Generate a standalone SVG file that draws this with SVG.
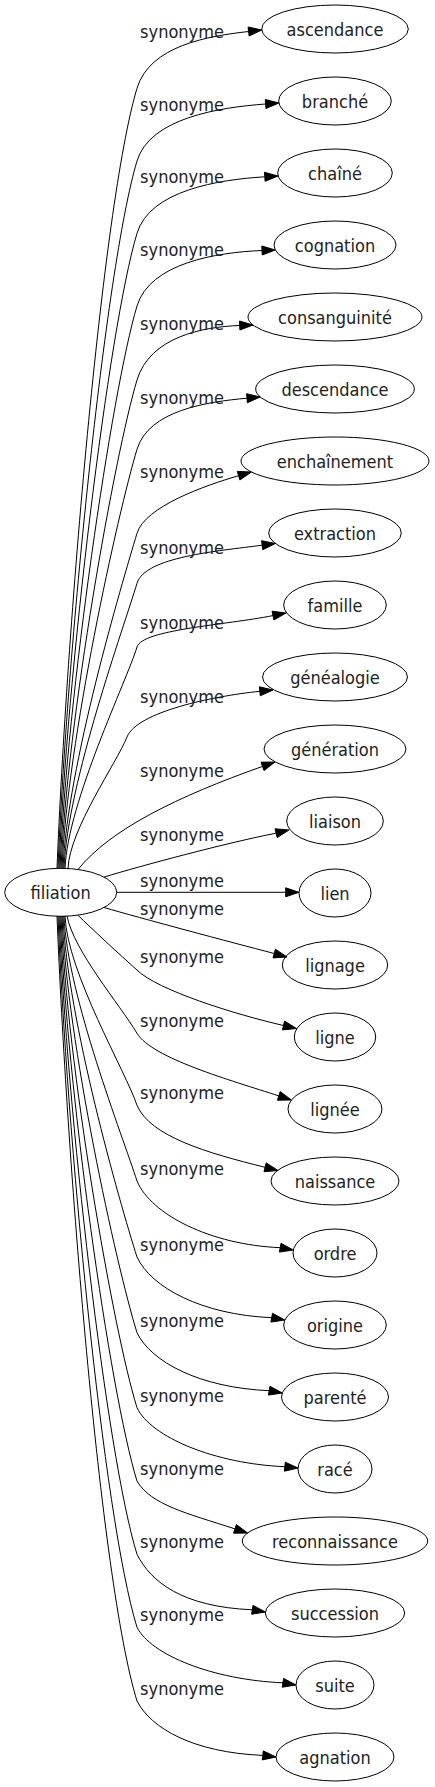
<svg xmlns="http://www.w3.org/2000/svg" width="435" height="1787" viewBox="0 0 435 1787">
<style>
.n ellipse{fill:none;stroke:#000;stroke-width:1}
.n text,.e text{font-family:"DejaVu Sans Condensed","DejaVu Sans",sans-serif;font-size:18px;fill:#222;text-anchor:middle}
.e path{fill:none;stroke:#000;stroke-width:1}
.e polygon{fill:#000;stroke:#000;stroke-width:1}
</style>
<rect width="435" height="1787" fill="#fff"/>
<g id="edges">
<g class="e"><path d="M57,868.5 C66.4,634.5 101.9,205.3 137,88.3 C149.9,45.3 208.9,36 248.6,31.5"/><polygon points="261.8,30 248.1,27 249.1,36"/><text x="182" y="38.3">synonyme</text></g>
<g class="e"><path d="M58,868.5 C66.5,656.5 105.2,267 137,161 C149.9,118 219.4,107.4 265.6,104"/><polygon points="278.9,103 265.3,99.5 265.9,108.5"/><text x="182" y="111">synonyme</text></g>
<g class="e"><path d="M59,868.5 C66.6,677.9 108.4,328.6 137,233.3 C149.9,190.3 218.9,179.6 264.8,176.8"/><polygon points="278.1,176 264.5,172.3 265.1,181.3"/><text x="182" y="183.3">synonyme</text></g>
<g class="e"><path d="M60,868.5 C66.8,699.7 111.7,390.4 137,306 C149.9,263 217,252.3 262,250.5"/><polygon points="275.3,250 261.8,246 262.2,255"/><text x="182" y="256">synonyme</text></g>
<g class="e"><path d="M61,868.5 C66.9,721.9 115,453.3 137,380 C149.9,337 202.7,326.8 239.7,325.5"/><polygon points="253,325 239.5,321 239.9,330"/><text x="182" y="330">synonyme</text></g>
<g class="e"><path d="M62,868.5 C67,742.7 118.1,512.2 137,449.3 C148.8,410.1 207.6,401.8 247,398.2"/><polygon points="260.2,397 246.6,393.7 247.4,402.7"/><text x="182" y="404.3">synonyme</text></g>
<g class="e"><path d="M63,868.5 C67,767.9 121.9,583.6 137,533.3 C145,506.6 205,485.5 238.6,475.7"/><polygon points="251.4,472 237.3,471.4 239.9,480"/><text x="182" y="478.3">synonyme</text></g>
<g class="e"><path d="M64,868.5 C67.4,782.9 124.2,626.1 137,583.3 C144.9,556.9 217.6,551.1 262.2,545.2"/><polygon points="275.4,543.5 261.6,540.7 262.8,549.7"/><text x="182" y="554.3">synonyme</text></g>
<g class="e"><path d="M65,868.5 C67.7,802 127,680.2 137,647 C142.2,629.6 225,625.1 273,615.6"/><polygon points="286,613 272.1,611.2 273.9,620"/><text x="182" y="629.3">synonyme</text></g>
<g class="e"><path d="M68,868.6 C69.6,829.1 116.5,763.3 127,737 C137,712 212.2,696.2 259.8,691.3"/><polygon points="273,690 259.3,686.8 260.3,695.8"/><text x="182" y="703.3">synonyme</text></g>
<g class="e"><path d="M78,869.5 C110,829.5 177.6,796.4 262.5,766.4"/><polygon points="275,762 261,762.2 264,770.6"/><text x="182" y="776.7">synonyme</text></g>
<g class="e"><path d="M104,877.1 C140,866 230,842 276.1,833.2"/><polygon points="289,830 275,828.8 277.2,837.6"/><text x="182" y="840.7">synonyme</text></g>
<g class="e"><path d="M116.7,892.3 L285.7,892.3"/><polygon points="299,892.3 285.7,887.8 285.7,896.8"/><text x="182" y="887.3">synonyme</text></g>
<g class="e"><path d="M104,907.5 C140,918 230,942 274.2,953.5"/><polygon points="287,957 273,957.9 275.4,949.2"/><text x="182" y="915">synonyme</text></g>
<g class="e"><path d="M78,915.3 C90,927 120,955 137,970 C157,990 234.8,1014.3 283.5,1025.5"/><polygon points="296.5,1028.5 282.5,1029.9 284.5,1021.1"/><text x="182" y="962.7">synonyme</text></g>
<g class="e"><path d="M67,916 C74,951.2 119.4,1004 137,1033.3 C152,1058.3 231.3,1080.4 278.8,1095.9"/><polygon points="291.4,1100 277.4,1100.2 280.2,1091.6"/><text x="182" y="1027.3">synonyme</text></g>
<g class="e"><path d="M65,916 C67.3,972.8 126,1072 137,1105.3 C150,1136.3 206.9,1152.9 265.1,1167.3"/><polygon points="278,1170.5 264,1171.7 266.2,1162.9"/><text x="182" y="1099.3">synonyme</text></g>
<g class="e"><path d="M64,916 C67.2,995.5 123,1137 137,1181 C151,1214.4 210.2,1244.7 280.2,1247.7"/><polygon points="293.3,1250 279.4,1252.1 281,1243.3"/><text x="182" y="1175">synonyme</text></g>
<g class="e"><path d="M63,916 C67.1,1018.3 119.5,1202 137,1257 C151,1287.4 201.7,1314.7 271.7,1317.7"/><polygon points="284.8,1320 270.9,1322.1 272.5,1313.3"/><text x="182" y="1251">synonyme</text></g>
<g class="e"><path d="M62,916 C67,1041 116.3,1266 137,1332.7 C151,1361.7 199.2,1387.7 269.2,1390.7"/><polygon points="282.3,1393 268.4,1395.1 270,1386.3"/><text x="182" y="1326.7">synonyme</text></g>
<g class="e"><path d="M61,916 C66.9,1063.5 112.9,1330 137,1407.7 C151,1437.2 214.8,1463.7 284.8,1466.7"/><polygon points="298,1468 284.4,1471.2 285.3,1462.2"/><text x="182" y="1401.7">synonyme</text></g>
<g class="e"><path d="M60,916 C66.8,1085.5 109.6,1392 137,1481 C151,1505 187.5,1513.4 235,1528.9"/><polygon points="247.6,1533 233.6,1533.2 236.4,1524.6"/><text x="182" y="1475">synonyme</text></g>
<g class="e"><path d="M59,916 C66.7,1107.5 106.3,1455 137,1554.3 C151,1582 182.3,1606.8 252.3,1609.8"/><polygon points="265.4,1612 251.6,1614.2 253,1605.4"/><text x="182" y="1548.3">synonyme</text></g>
<g class="e"><path d="M58,916 C66.5,1129.4 103,1517 137,1627.3 C151,1655 212.9,1679.8 282.9,1682.8"/><polygon points="296,1685 282.2,1687.2 283.6,1678.4"/><text x="182" y="1621.3">synonyme</text></g>
<g class="e"><path d="M57,916 C66.4,1151.5 99.7,1580 137,1701 C151,1728.2 192.8,1752.4 262.8,1755.4"/><polygon points="276,1757 262.3,1759.9 263.3,1750.9"/><text x="182" y="1695">synonyme</text></g>
</g>
<g id="filiation" class="n"><ellipse cx="60.7" cy="892.3" rx="56" ry="24"/><text x="60.7" y="898.8">filiation</text></g>
<g id="ascendance" class="n"><ellipse cx="335" cy="29" rx="73.3" ry="24"/><text x="335" y="35.5">ascendance</text></g>
<g id="branche" class="n"><ellipse cx="335" cy="101" rx="56.3" ry="24"/><text x="335" y="107.5">branché</text></g>
<g id="chaine" class="n"><ellipse cx="335" cy="173" rx="57.3" ry="24"/><text x="335" y="179.5">chaîné</text></g>
<g id="cognation" class="n"><ellipse cx="335" cy="245" rx="61" ry="24"/><text x="335" y="251.5">cognation</text></g>
<g id="consanguinite" class="n"><ellipse cx="335" cy="317" rx="87" ry="24"/><text x="335" y="323.5">consanguinité</text></g>
<g id="descendance" class="n"><ellipse cx="335" cy="389" rx="79.3" ry="24"/><text x="335" y="395.5">descendance</text></g>
<g id="enchainement" class="n"><ellipse cx="335" cy="461" rx="94" ry="24"/><text x="335" y="467.5">enchaînement</text></g>
<g id="extraction" class="n"><ellipse cx="335" cy="533" rx="66.3" ry="24"/><text x="335" y="539.5">extraction</text></g>
<g id="famille" class="n"><ellipse cx="335" cy="605" rx="51.3" ry="24"/><text x="335" y="611.5">famille</text></g>
<g id="genealogie" class="n"><ellipse cx="335" cy="677" rx="72.5" ry="24"/><text x="335" y="683.5">généalogie</text></g>
<g id="generation" class="n"><ellipse cx="335" cy="749" rx="71" ry="24"/><text x="335" y="755.5">génération</text></g>
<g id="liaison" class="n"><ellipse cx="335" cy="821" rx="48.3" ry="24"/><text x="335" y="827.5">liaison</text></g>
<g id="lien" class="n"><ellipse cx="335" cy="893" rx="36" ry="24"/><text x="335" y="899.5">lien</text></g>
<g id="lignage" class="n"><ellipse cx="335" cy="965" rx="52.7" ry="24"/><text x="335" y="971.5">lignage</text></g>
<g id="ligne" class="n"><ellipse cx="335" cy="1037" rx="40.7" ry="24"/><text x="335" y="1043.5">ligne</text></g>
<g id="lignee" class="n"><ellipse cx="335" cy="1109" rx="47" ry="24"/><text x="335" y="1115.5">lignée</text></g>
<g id="naissance" class="n"><ellipse cx="335" cy="1181" rx="64" ry="24"/><text x="335" y="1187.5">naissance</text></g>
<g id="ordre" class="n"><ellipse cx="335" cy="1253" rx="42" ry="24"/><text x="335" y="1259.5">ordre</text></g>
<g id="origine" class="n"><ellipse cx="335" cy="1325" rx="51.3" ry="24"/><text x="335" y="1331.5">origine</text></g>
<g id="parente" class="n"><ellipse cx="335" cy="1397" rx="53.5" ry="24"/><text x="335" y="1403.5">parenté</text></g>
<g id="race" class="n"><ellipse cx="335" cy="1469" rx="37" ry="24"/><text x="335" y="1475.5">racé</text></g>
<g id="reconnaissance" class="n"><ellipse cx="335" cy="1541" rx="92.7" ry="24"/><text x="335" y="1547.5">reconnaissance</text></g>
<g id="succession" class="n"><ellipse cx="335" cy="1613" rx="69.7" ry="24"/><text x="335" y="1619.5">succession</text></g>
<g id="suite" class="n"><ellipse cx="335" cy="1685" rx="39" ry="24"/><text x="335" y="1691.5">suite</text></g>
<g id="agnation" class="n"><ellipse cx="335" cy="1757" rx="59" ry="24"/><text x="335" y="1763.5">agnation</text></g>
</svg>
